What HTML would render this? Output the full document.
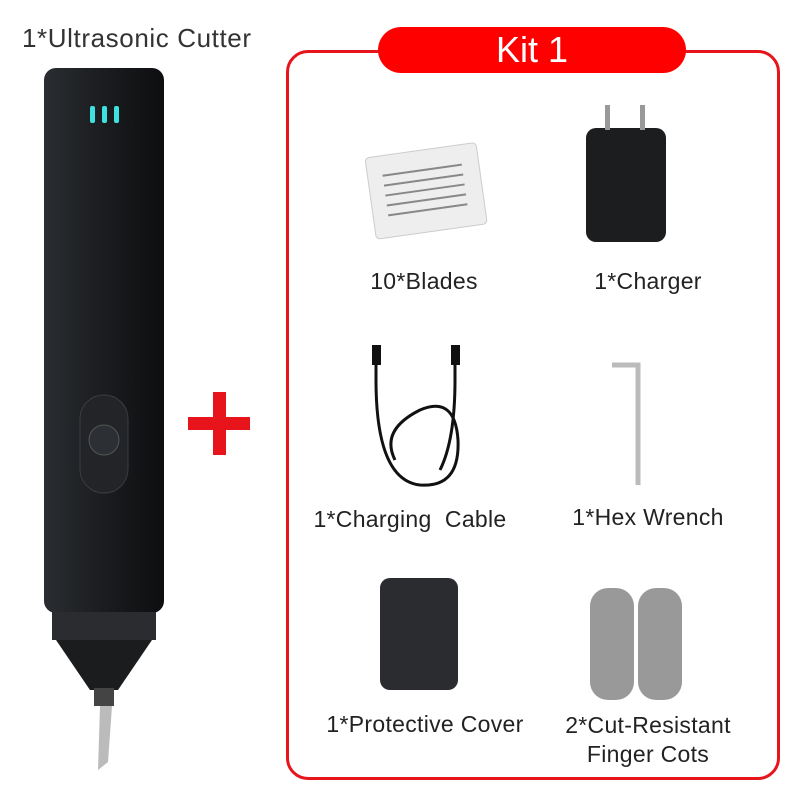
<!DOCTYPE html>
<html><head><style>
body{margin:0;width:800px;height:800px;background:#fff;position:relative;overflow:hidden;font-family:"Liberation Sans",sans-serif;}
.t{position:absolute;color:#222;font-size:23px;white-space:nowrap;text-align:center;letter-spacing:0.3px}
</style></head><body>
<div class="t" style="left:22px;top:23px;font-size:26px;color:#333;letter-spacing:0.6px">1*Ultrasonic Cutter</div>
<div style="position:absolute;left:286px;top:50px;width:488px;height:724px;border:3px solid #e8141b;border-radius:22px"></div>
<div style="position:absolute;left:378px;top:27px;width:308px;height:46px;background:#f00;border-radius:23px;color:#fff;font-size:36px;text-align:center;line-height:46px">Kit 1</div>
<svg width="800" height="800" style="position:absolute;left:0;top:0">
<defs><linearGradient id="g" x1="0" x2="1"><stop offset="0" stop-color="#2a2d31"/><stop offset="0.5" stop-color="#1a1c1f"/><stop offset="1" stop-color="#0d0e10"/></linearGradient></defs>
<rect x="44" y="68" width="120" height="545" rx="12" fill="url(#g)"/>
<rect x="90" y="106" width="5" height="17" rx="2" fill="#3ee0e0"/><rect x="102" y="106" width="5" height="17" rx="2" fill="#3ee0e0"/><rect x="114" y="106" width="5" height="17" rx="2" fill="#3ee0e0"/>
<rect x="80" y="395" width="48" height="98" rx="24" fill="#222427" stroke="#3a3d42"/>
<circle cx="104" cy="440" r="15" fill="#2c2f33" stroke="#555"/>
<rect x="52" y="612" width="104" height="28" fill="#2a2c2f"/>
<polygon points="56,640 152,640 118,690 90,690" fill="#1b1c1e"/>
<rect x="94" y="688" width="20" height="18" fill="#444"/>
<polygon points="100,706 112,706 108,762 98,770" fill="#bbb"/>
<rect x="188" y="417" width="62" height="13" fill="#e8141b"/><rect x="213" y="392" width="13" height="63" fill="#e8141b"/>
<g transform="rotate(-8 425 190)"><rect x="370" y="150" width="112" height="82" rx="4" fill="#eee" stroke="#ccc"/>
<g stroke="#888" stroke-width="2"><line x1="385" y1="170" x2="465" y2="170"/><line x1="385" y1="180" x2="465" y2="180"/><line x1="385" y1="190" x2="465" y2="190"/><line x1="385" y1="200" x2="465" y2="200"/><line x1="385" y1="210" x2="465" y2="210"/></g></g>
<rect x="586" y="128" width="80" height="114" rx="10" fill="#1c1d1f"/>
<rect x="605" y="105" width="5" height="25" fill="#999"/><rect x="640" y="105" width="5" height="25" fill="#999"/>
<path d="M376 352 L376 380 Q376 480 420 485 Q460 488 458 440 Q455 395 420 410 Q380 430 395 460" fill="none" stroke="#111" stroke-width="3"/>
<path d="M455 352 L455 380 Q455 440 440 470" fill="none" stroke="#111" stroke-width="3"/>
<rect x="372" y="345" width="9" height="20" fill="#111"/><rect x="451" y="345" width="9" height="20" fill="#111"/>
<path d="M612 365 L638 365 L638 485" fill="none" stroke="#bbb" stroke-width="5"/>
<rect x="380" y="578" width="78" height="112" rx="10" fill="#2a2c2f"/>
<rect x="590" y="588" width="44" height="112" rx="18" fill="#999"/><rect x="638" y="588" width="44" height="112" rx="18" fill="#999"/>
</svg>
<div class="t" style="left:334px;top:268px;width:180px">10*Blades</div>
<div class="t" style="left:558px;top:268px;width:180px">1*Charger</div>
<div class="t" style="left:290px;top:506px;width:240px">1*Charging&nbsp; Cable</div>
<div class="t" style="left:538px;top:504px;width:220px">1*Hex Wrench</div>
<div class="t" style="left:295px;top:711px;width:260px">1*Protective Cover</div>
<div class="t" style="left:533px;top:711px;width:230px;line-height:29px">2*Cut-Resistant<br>Finger Cots</div>
</body></html>
